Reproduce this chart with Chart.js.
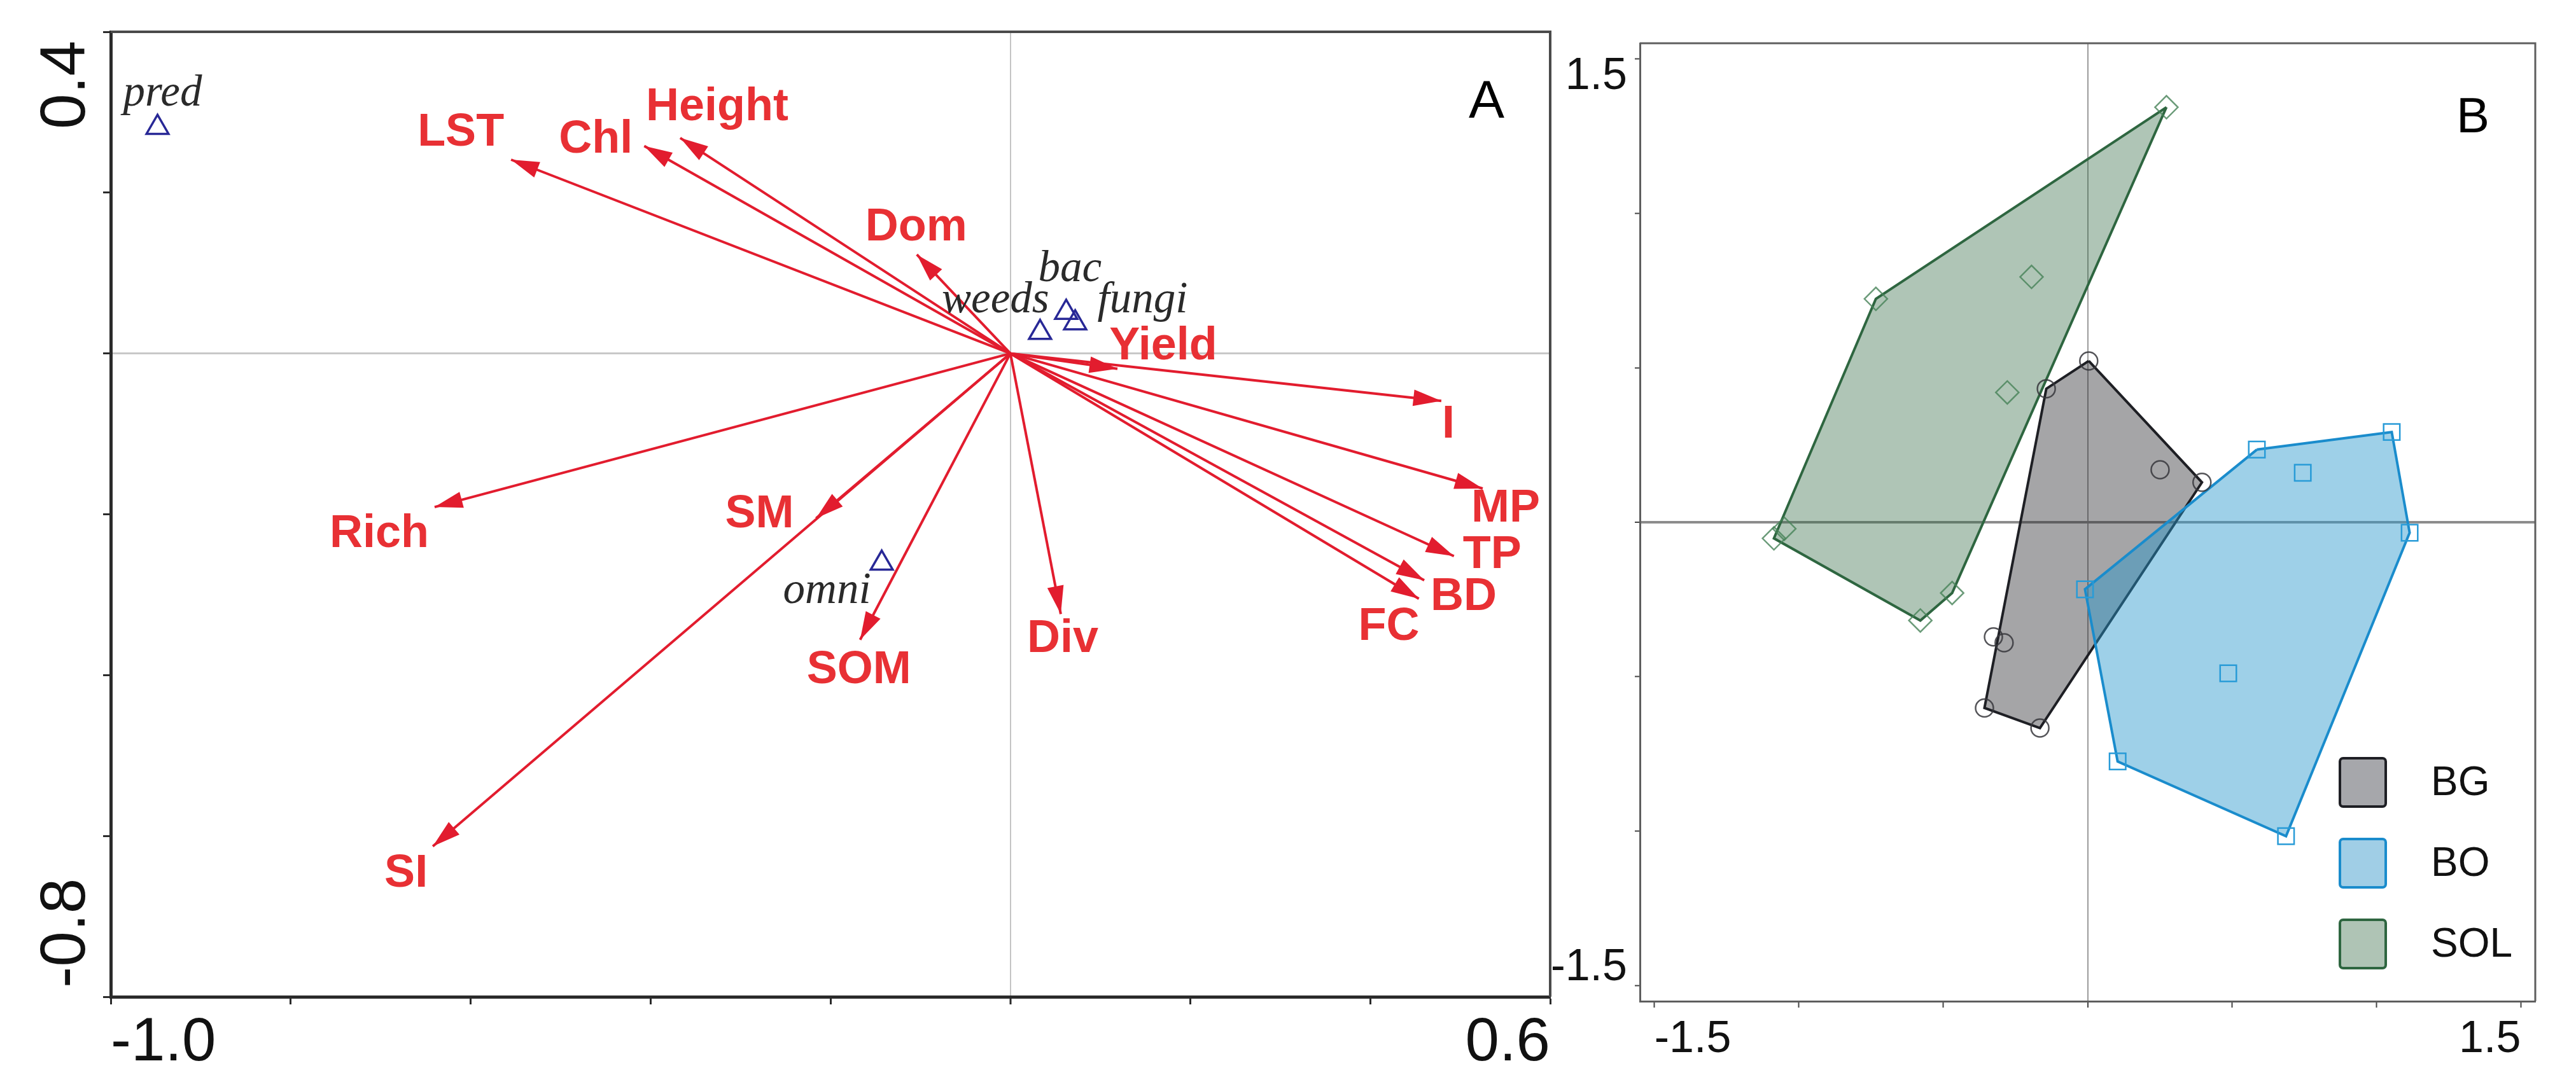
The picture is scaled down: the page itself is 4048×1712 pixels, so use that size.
<!DOCTYPE html>
<html lang="en">
<head>
  <meta charset="UTF-8">
  <title>RDA biplot and NMDS hulls</title>
  <script src="https://cdn.jsdelivr.net/npm/chart.js@4.4.1/dist/chart.umd.min.js"></script>
  <style>
    html, body { margin: 0; padding: 0; background: #fff; }
    #wrap { position: relative; width: 4048px; height: 1712px; overflow: hidden; background: #fff; }
    #chartA { position: absolute; left: 0; top: 0; }
    #chartB { position: absolute; left: 2440px; top: 0; }
  </style>
</head>
<body>
<div id="wrap">
  <canvas id="chartA" width="2460" height="1712"></canvas>
  <canvas id="chartB" width="1608" height="1712"></canvas>
</div>
<script>
  // ---------- panel A: environmental arrows + taxa ----------
  const envNames = ['LST', 'Chl', 'Height', 'Dom', 'Yield', 'I', 'MP', 'TP', 'BD', 'FC', 'Div', 'SOM', 'SM', 'Rich', 'SI'];
  const envX = [-0.555, -0.407, -0.367, -0.104, 0.119, 0.479, 0.525, 0.493, 0.460, 0.454, 0.056, -0.167, -0.216, -0.640, -0.642];
  const envY = [0.241, 0.258, 0.268, 0.123, -0.019, -0.059, -0.168, -0.252, -0.282, -0.305, -0.324, -0.356, -0.205, -0.191, -0.613];

  const taxaNames = ['pred', 'weeds', 'bac', 'fungi', 'omni'];
  const taxaX = [-0.948, 0.033, 0.062, 0.072, -0.143];
  const taxaY = [0.281, 0.026, 0.051, 0.038, -0.261];

  const aXTicks = [-1.0, -0.8, -0.6, -0.4, -0.2, 0, 0.2, 0.4, 0.6];
  const aXTickLabels = ['-1.0', '', '', '', '', '', '', '', '0.6'];
  const aYTicks = [-0.8, -0.6, -0.4, -0.2, 0, 0.2, 0.4];
  const aYTickLabels = ['-0.8', '', '', '', '', '', '0.4'];

  // ---------- panel B: sample scores per treatment ----------
  const groupNames = ['BG', 'BO', 'SOL'];
  const bgX = [0.004, -0.143, -0.357, -0.165, 0.396, 0.251, -0.326, -0.289];
  const bgY = [0.522, 0.432, -0.601, -0.666, 0.129, 0.170, -0.371, -0.390];
  const bgHull = [0, 1, 2, 3, 4];
  const boX = [0.586, 1.053, 1.115, 0.687, 0.104, -0.009, 0.745, 0.487];
  const boY = [0.235, 0.292, -0.034, -1.016, -0.774, -0.217, 0.160, -0.489];
  const boHull = [0, 1, 2, 3, 4, 5];
  const solX = [0.273, -0.733, -1.086, -0.579, -0.469, -0.194, -0.278, -1.050];
  const solY = [1.343, 0.723, -0.052, -0.318, -0.229, 0.794, 0.420, -0.021];
  const solHull = [0, 1, 2, 3, 4];

  const bTicks = [-1.5, -1.0, -0.5, 0, 0.5, 1.0, 1.5];
  const bXTickLabels = ['-1.5', '', '', '', '', '', '1.5'];
  const bYTickLabels = ['-1.5', '', '', '', '', '', '1.5'];

  // label placement next to marks (pixels), kept apart from the data
  const envLabelNudge = [[-79, -42], [-76, -9], [58, -48], [-1, -42], [72, -35], [11, 38], [36, 32], [60, -1],
                         [62, 27], [-47, 45], [3, 40], [-2, 48], [-89, -6], [-87, 43], [-42, 44]];
  const taxaLabelNudge = [[8, -34], [-70, -32], [6, -49], [106, -17], [-86, 62]];

  const SANS = '"Liberation Sans", Arial, Helvetica, sans-serif';
  const SERIF = '"Liberation Serif", "Times New Roman", serif';
  const ARROW_RED = 'rgb(226,28,46)';
  const LABEL_RED = 'rgb(232,48,52)';

  Chart.defaults.animation = false;
  Chart.defaults.responsive = false;
  Chart.defaults.devicePixelRatio = 1;

  const zeroOnly = (col, off) => c => (c.tick && Math.abs(c.tick.value) < 1e-9 ? col : off);

  // arrowheads, labels, frame and the rotated y tick labels of panel A
  const biplotDecor = {
    id: 'biplotDecor',
    afterDraw(chart, args, o) {
      const { ctx, chartArea: a, scales } = chart;
      ctx.save();
      ctx.strokeStyle = o.frameColor;
      ctx.lineWidth = o.frameWidth;
      ctx.beginPath();
      ctx.moveTo(a.left, a.top);
      ctx.lineTo(a.right, a.top);
      ctx.lineTo(a.right, a.bottom);
      ctx.stroke();

      chart.data.datasets.forEach((ds, i) => {
        const pts = chart.getDatasetMeta(i).data;
        if (ds.kind === 'env') {
          const p0 = pts[0], p1 = pts[1];
          const ang = Math.atan2(p1.y - p0.y, p1.x - p0.x);
          ctx.save();
          ctx.translate(p1.x, p1.y);
          ctx.rotate(ang);
          ctx.fillStyle = ARROW_RED;
          ctx.beginPath();
          ctx.moveTo(0, 0);
          ctx.lineTo(-44, -13);
          ctx.lineTo(-44, 13);
          ctx.closePath();
          ctx.fill();
          ctx.restore();
          ctx.fillStyle = LABEL_RED;
          ctx.font = 'bold 72px ' + SANS;
          ctx.textAlign = 'center';
          ctx.textBaseline = 'middle';
          ctx.fillText(ds.label, p1.x + ds.nudge[0], p1.y + ds.nudge[1]);
        } else if (ds.kind === 'taxa') {
          ctx.fillStyle = '#2a2a2a';
          ctx.font = 'italic 69px ' + SERIF;
          ctx.textAlign = 'center';
          ctx.textBaseline = 'alphabetic';
          pts.forEach((p, j) => {
            ctx.fillText(taxaNames[j], p.x + taxaLabelNudge[j][0], p.y + taxaLabelNudge[j][1]);
          });
        }
      });

      // y tick labels, rotated like the original
      const ys = scales.y;
      ctx.fillStyle = '#111';
      ctx.font = '100px ' + SANS;
      ctx.textBaseline = 'alphabetic';
      ys.ticks.forEach((t, i) => {
        const txt = aYTickLabels[i];
        if (!txt) return;
        const py = ys.getPixelForValue(t.value);
        const first = i === 0;
        ctx.save();
        ctx.translate(o.yLabelX, first ? py - 14 : py + 14);
        ctx.rotate(-Math.PI / 2);
        ctx.textAlign = first ? 'left' : 'right';
        ctx.fillText(txt, 0, 0);
        ctx.restore();
      });

      ctx.fillStyle = '#000';
      ctx.font = '84px ' + SANS;
      ctx.textAlign = 'center';
      ctx.textBaseline = 'middle';
      ctx.fillText(o.tag, a.right - 100, a.top + 112);
      ctx.restore();
    }
  };

  const envSets = envNames.map((name, i) => ({
    kind: 'env',
    label: name,
    nudge: envLabelNudge[i],
    data: [{ x: 0, y: 0 }, { x: envX[i], y: envY[i] }],
    showLine: true,
    borderColor: ARROW_RED,
    borderWidth: 4,
    pointRadius: 0,
    order: 2
  }));

  new Chart(document.getElementById('chartA'), {
    type: 'scatter',
    data: {
      datasets: [
        ...envSets,
        {
          kind: 'taxa',
          label: 'taxa',
          data: taxaX.map((x, i) => ({ x, y: taxaY[i] })),
          pointStyle: 'triangle',
          pointRadius: 20,
          borderColor: 'rgb(40,40,150)',
          backgroundColor: 'rgba(0,0,0,0)',
          borderWidth: 3.5,
          order: 1
        }
      ]
    },
    options: {
      layout: { padding: { top: 50, right: 24, left: 0, bottom: 0 } },
      plugins: {
        legend: { display: false },
        tooltip: { enabled: false },
        biplotDecor: { frameColor: '#4a4a4a', frameWidth: 4, yLabelX: 133, tag: 'A' }
      },
      scales: {
        x: {
          type: 'linear', min: -1.0, max: 0.6,
          afterBuildTicks: s => { s.ticks = aXTicks.map(v => ({ value: v })); },
          afterFit: s => { s.height = 145; },
          grid: {
            color: zeroOnly('#c4c4c4', 'rgba(0,0,0,0)'),
            lineWidth: zeroOnly(2, 1),
            tickColor: '#2b2b2b', tickWidth: 3, tickLength: 12
          },
          border: { color: '#2b2b2b', width: 5 },
          ticks: {
            autoSkip: false, maxRotation: 0, minRotation: 0, align: 'inner', padding: 4,
            color: '#111', font: { family: SANS, size: 96 },
            callback: (v, i) => aXTickLabels[i]
          }
        },
        y: {
          type: 'linear', min: -0.8, max: 0.4,
          afterBuildTicks: s => { s.ticks = aYTicks.map(v => ({ value: v })); },
          afterFit: s => { s.width = 174; },
          grid: {
            color: zeroOnly('#c8c8c8', 'rgba(0,0,0,0)'),
            lineWidth: zeroOnly(3, 1),
            tickColor: '#2b2b2b', tickWidth: 3, tickLength: 12
          },
          border: { color: '#2b2b2b', width: 5 },
          ticks: { display: false }
        }
      }
    },
    plugins: [biplotDecor]
  });

  // ---------- panel B ----------
  const groupStyle = {
    BG: { line: 'rgb(30,31,36)', fill: 'rgba(30,31,36,0.40)', mark: 'rgba(55,55,60,0.85)', shape: 'circle', r: 14, box: 'rgb(166,167,171)' },
    BO: { line: 'rgb(26,140,204)', fill: 'rgba(40,150,205,0.45)', mark: 'rgb(40,155,215)', shape: 'rect', r: 18, box: 'rgb(160,206,230)' },
    SOL: { line: 'rgb(46,102,64)', fill: 'rgba(46,102,64,0.38)', mark: 'rgba(70,130,88,0.8)', shape: 'rectRot', r: 18, box: 'rgb(175,196,181)' }
  };
  const groupData = {
    BG: { x: bgX, y: bgY, hull: bgHull },
    BO: { x: boX, y: boY, hull: boHull },
    SOL: { x: solX, y: solY, hull: solHull }
  };

  const hullSets = groupNames.map((g, k) => {
    const d = groupData[g];
    const idx = d.hull.concat(d.hull[0]);
    return {
      kind: 'hull',
      label: g,
      data: idx.map(i => ({ x: d.x[i], y: d.y[i] })),
      showLine: true,
      fill: 'shape',
      borderColor: groupStyle[g].line,
      backgroundColor: groupStyle[g].fill,
      borderWidth: 4,
      borderJoinStyle: 'miter',
      pointRadius: 0,
      order: 10 - k
    };
  });
  const markSets = groupNames.map(g => {
    const d = groupData[g], st = groupStyle[g];
    return {
      kind: 'marks',
      label: g + ' samples',
      data: d.x.map((x, i) => ({ x, y: d.y[i] })),
      pointStyle: st.shape,
      pointRadius: st.r,
      borderColor: st.mark,
      backgroundColor: 'rgba(0,0,0,0)',
      borderWidth: 2.5,
      order: 1
    };
  });

  const hullDecor = {
    id: 'hullDecor',
    afterDraw(chart, args, o) {
      const { ctx, chartArea: a } = chart;
      ctx.save();
      ctx.strokeStyle = o.frameColor;
      ctx.lineWidth = o.frameWidth;
      ctx.beginPath();
      ctx.moveTo(a.left, a.top);
      ctx.lineTo(a.right, a.top);
      ctx.lineTo(a.right, a.bottom);
      ctx.stroke();

      // legend
      const x0 = a.right - 307, y0 = a.bottom - 382;
      ctx.font = '64px ' + SANS;
      ctx.textAlign = 'left';
      ctx.textBaseline = 'middle';
      groupNames.forEach((g, i) => {
        const st = groupStyle[g];
        const y = y0 + i * 127;
        ctx.beginPath();
        ctx.roundRect(x0, y, 72, 76, 5);
        ctx.fillStyle = st.box;
        ctx.fill();
        ctx.lineWidth = 4;
        ctx.strokeStyle = st.line;
        ctx.stroke();
        ctx.fillStyle = '#111';
        ctx.fillText(g, x0 + 143, y + 40);
      });

      ctx.fillStyle = '#000';
      ctx.font = '78px ' + SANS;
      ctx.textAlign = 'center';
      ctx.fillText(o.tag, a.right - 98, a.top + 118);
      ctx.restore();
    }
  };

  new Chart(document.getElementById('chartB'), {
    type: 'scatter',
    data: { datasets: [...hullSets, ...markSets] },
    options: {
      layout: { padding: { top: 52, right: 64, left: 0, bottom: 0 } },
      plugins: {
        legend: { display: false },
        tooltip: { enabled: false },
        hullDecor: { frameColor: '#5e5e5e', frameWidth: 3, tag: 'B' }
      },
      scales: {
        x: {
          type: 'linear', min: -1.55, max: 1.55,
          afterBuildTicks: s => { s.ticks = bTicks.map(v => ({ value: v })); },
          afterFit: s => { s.height = 138; },
          grid: {
            color: zeroOnly('#9c9c9c', 'rgba(0,0,0,0)'),
            lineWidth: zeroOnly(2, 1),
            tickColor: '#444', tickWidth: 2, tickLength: 10
          },
          border: { color: '#5e5e5e', width: 3 },
          ticks: {
            autoSkip: false, maxRotation: 0, minRotation: 0, align: 'inner', padding: 9,
            color: '#111', font: { family: SANS, size: 70 },
            callback: (v, i) => bXTickLabels[i]
          }
        },
        y: {
          type: 'linear', min: -1.55, max: 1.55,
          afterBuildTicks: s => { s.ticks = bTicks.map(v => ({ value: v })); },
          afterFit: s => { s.width = 137; },
          grid: {
            color: zeroOnly('#8c8c8c', 'rgba(0,0,0,0)'),
            lineWidth: zeroOnly(4, 1),
            tickColor: '#444', tickWidth: 2, tickLength: 8
          },
          border: { color: '#5e5e5e', width: 3 },
          ticks: {
            autoSkip: false, padding: 12, color: '#111',
            font: { family: SANS, size: 70, lineHeight: 0.8 },
            // end labels sit inside the axis span: top one below its tick, bottom one above
            callback: (v, i) => {
              const t = bYTickLabels[i];
              if (!t) return '';
              return i === 0 ? [t, ''] : ['', t];
            }
          }
        }
      }
    },
    plugins: [hullDecor]
  });
</script>
</body>
</html>
